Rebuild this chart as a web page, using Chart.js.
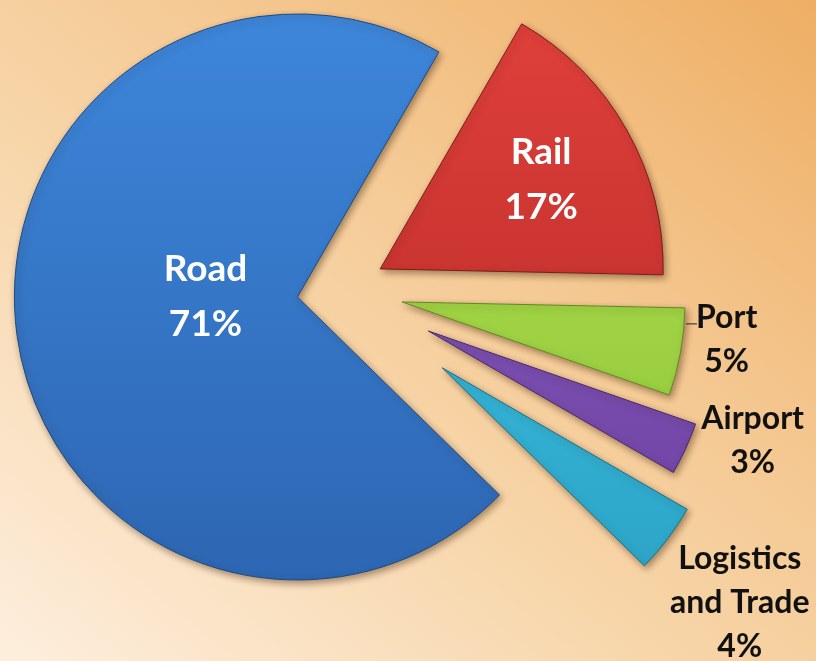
<!DOCTYPE html>
<html>
<head>
<meta charset="utf-8">
<script src="https://cdn.jsdelivr.net/npm/chart.js@4.4.1/dist/chart.umd.min.js"></script>
<style>
  html, body { margin: 0; padding: 0; }
  body {
    width: 816px; height: 661px; overflow: hidden;
    background: linear-gradient(to bottom left, #eeae64 0%, #f4c790 35%, #f7d6aa 60%, #fdeedd 100%);
  }
  canvas { display: block; }
</style>
</head>
<body>
<canvas id="pie" width="816" height="661"></canvas>
<script>
// slices in clockwise order, starting at the Rail/Road gap
const categories = ['Rail', 'Port', 'Airport', 'Logistics\nand Trade', 'Road'];
const shares = [17, 5, 3, 4, 71];

// how far each slice is pulled out from the centre
const explode = [45, 62, 96, 127, 44];

// fill colours, top -> bottom of the gradient
const topColors = ['#e2413c', '#b4e24e', '#8a60c4', '#3cc6e8', '#3d86da'];
const bottomColors = ['#b32826', '#8cc43a', '#6a3e9e', '#2a9fc2', '#2d66b2'];
const edgeColors = ['#7a1c1a', '#5e8a22', '#45286e', '#1a6f88', '#1d4a84'];

// label placement (angle in degrees on screen, distance as part of radius)
const labelAngle = [-29, 6.7, 18.7, 38.3, 180];
const labelDist = [0.65, 1.155, 1.21, 1.34, 0.325];
const labelInside = [true, false, false, false, true];

const RADIUS = 283;

function sliceFill(context) {
    const chart = context.chart;
    const area = chart.chartArea;
    const i = context.dataIndex;
    if (!area) return topColors[i];
    const cy = (area.top + area.bottom) / 2;
    const g = chart.ctx.createLinearGradient(0, cy - RADIUS, 0, cy + RADIUS);
    g.addColorStop(0, topColors[i]);
    g.addColorStop(1, bottomColors[i]);
    return g;
}

// draw each arc shifted out along its middle angle, with a soft shadow
const explodePlugin = {
    id: 'explode',
    beforeDatasetDraw(chart, args) {
        const ctx = chart.ctx;
        args.meta.data.forEach((arc, i) => {
            const mid = (arc.startAngle + arc.endAngle) / 2;
            ctx.save();
            ctx.translate(Math.cos(mid) * explode[i], Math.sin(mid) * explode[i]);
            ctx.shadowColor = 'rgba(60,30,0,0.45)';
            ctx.shadowBlur = 7;
            ctx.shadowOffsetX = 2;
            ctx.shadowOffsetY = 3;
            arc.draw(ctx);
            ctx.restore();
        });
        return false;
    }
};

const labelPlugin = {
    id: 'sliceLabels',
    afterDatasetsDraw(chart) {
        const ctx = chart.ctx;
        const meta = chart.getDatasetMeta(0);
        ctx.save();
        ctx.textAlign = 'center';
        ctx.textBaseline = 'middle';
        meta.data.forEach((arc, i) => {
            const mid = (arc.startAngle + arc.endAngle) / 2;
            const ox = arc.x + Math.cos(mid) * explode[i];
            const oy = arc.y + Math.sin(mid) * explode[i];
            const a = labelAngle[i] * Math.PI / 180;
            const cx = ox + Math.cos(a) * labelDist[i] * arc.outerRadius;
            const cy = oy + Math.sin(a) * labelDist[i] * arc.outerRadius;
            const lines = categories[i].split('\n').concat([shares[i] + '%']);
            const lh = labelInside[i] ? 55 : 44;
            ctx.font = labelInside[i] ? 'bold 37px Lato' : 'bold 32px Lato';
            ctx.fillStyle = labelInside[i] ? '#ffffff' : '#111111';
            lines.forEach((t, k) => {
                ctx.fillText(t, cx, cy + (k - (lines.length - 1) / 2) * lh);
            });
        });
        // little leader tick next to the Port label
        const port = meta.data[1];
        const pm = (port.startAngle + port.endAngle) / 2;
        const px = port.x + Math.cos(pm) * explode[1] + Math.cos(port.startAngle) * port.outerRadius;
        const py = port.y + Math.sin(pm) * explode[1] + Math.sin(port.startAngle) * port.outerRadius;
        ctx.strokeStyle = '#222';
        ctx.lineWidth = 1;
        ctx.beginPath();
        ctx.moveTo(px + 1, py + 16);
        ctx.lineTo(px + 12, py + 16);
        ctx.stroke();
        ctx.restore();
    }
};

new Chart(document.getElementById('pie'), {
    type: 'pie',
    data: {
        labels: categories,
        datasets: [{
            data: shares,
            backgroundColor: sliceFill,
            borderColor: edgeColors,
            borderWidth: 1
        }]
    },
    options: {
        responsive: false,
        animation: false,
        events: [],
        rotation: 30,
        radius: RADIUS,
        layout: { padding: { left: 0, right: 134, top: 0, bottom: 79 } },
        plugins: {
            legend: { display: false },
            tooltip: { enabled: false }
        }
    },
    plugins: [explodePlugin, labelPlugin]
});
</script>
</body>
</html>
